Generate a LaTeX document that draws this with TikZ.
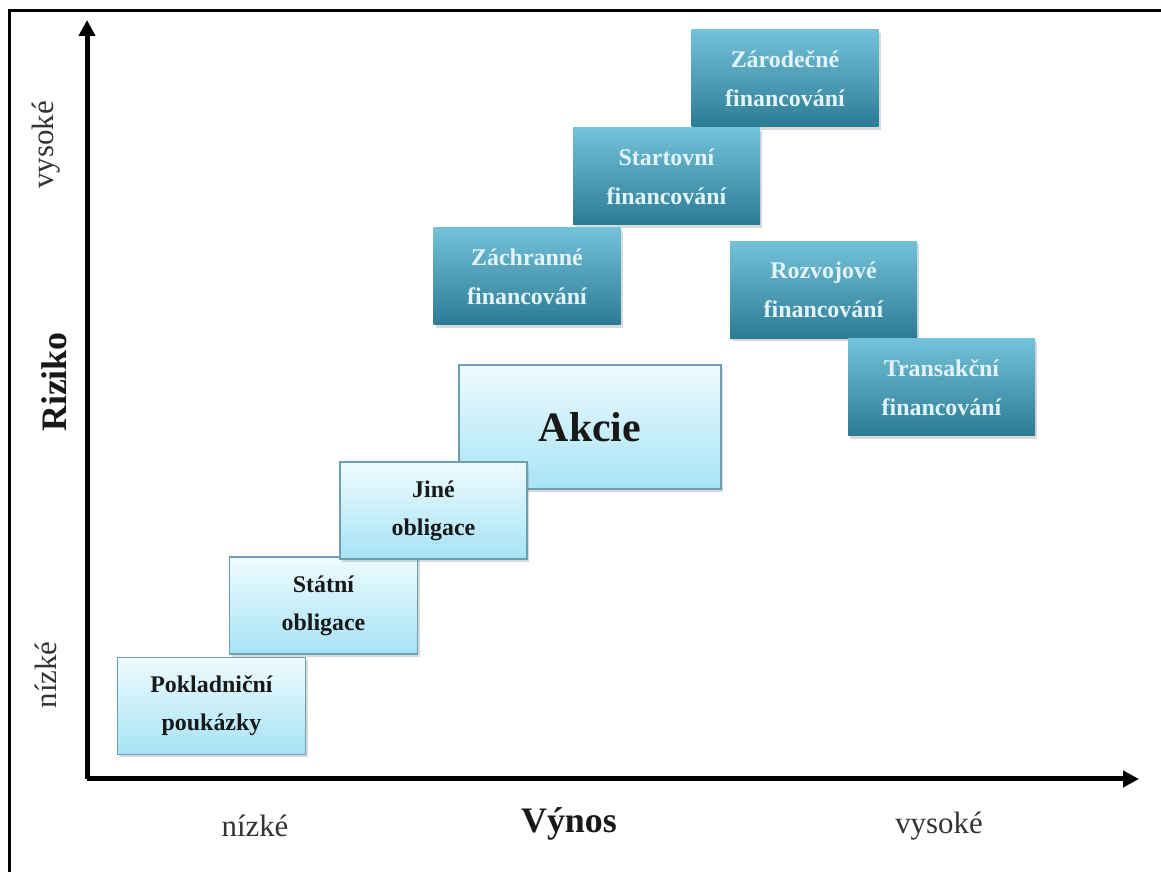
\documentclass[tikz,border=0pt]{standalone}
\usepackage{fontspec}
\setmainfont{Liberation Serif}
\usetikzlibrary{arrows.meta,shadows}

\definecolor{darktop}{HTML}{74C2D9}
\definecolor{darkbot}{HTML}{2C7B94}
\definecolor{darktext}{HTML}{E2F4F9}
\definecolor{lighttop}{HTML}{EFFBFE}
\definecolor{lightbot}{HTML}{A6E3F5}
\definecolor{lightedge}{HTML}{6E9FAF}

\begin{document}
\begin{tikzpicture}[x=1bp, y=1bp,
    darkbox/.style={minimum width=187bp, minimum height=97bp, inner sep=0pt,
        top color=darktop, bottom color=darkbot, text=darktext, align=center,
        font=\fontsize{24}{39}\selectfont\bfseries,
        drop shadow={shadow xshift=2bp, shadow yshift=-3bp, opacity=0.3}},
    lightbox/.style={draw=lightedge, line width=1.5bp, minimum width=188bp, minimum height=97bp,
        inner sep=0pt, top color=lighttop, bottom color=lightbot, text=black!90, align=center,
        font=\fontsize{24}{38}\selectfont\bfseries,
        drop shadow={shadow xshift=2bp, shadow yshift=-3bp, opacity=0.3}},
    axislabel/.style={font=\fontsize{31}{31}\selectfont, text=black!80},
    axistitle/.style={font=\fontsize{36}{36}\selectfont\bfseries, text=black!90}]
    \useasboundingbox (0,0) rectangle (1161,872);

    % Frame (top and left edges only)
    \draw[line width=3bp] (9,0) -- (9,861) -- (1161,861);

    % Axes
    \coordinate (origin) at (87,93);
    \coordinate (ytip) at (87,852);
    \coordinate (xtip) at (1139,93);
    \draw[line width=5bp, -{Triangle[length=16bp,width=16bp]}] (origin) -- (ytip);
    \draw[line width=5bp, -{Triangle[length=16bp,width=16bp]}] (origin) -- (xtip);

    % Axis labels
    \node[axislabel] (xlow) at (255,46) {nízké};
    \node[axistitle] (xtitle) at (569,48) {Výnos};
    \node[axislabel] (xhigh) at (939,46) {vysoké};
    \node[axislabel, rotate=90] (ylow) at (46,197) {nízké};
    \node[axistitle, rotate=90] (ytitle) at (54,490) {Riziko};
    \node[axislabel, rotate=90] (yhigh) at (46,727) {vysoké};

    % Light boxes (securities)
    \node[lightbox] (pokladnicni) at (211.5,166) {Pokladniční\\poukázky};
    \node[lightbox] (statni) at (323.5,266.5) {Státní\\obligace};
    \node[lightbox, minimum width=262bp, minimum height=124bp,
        font=\fontsize{42}{42}\selectfont\bfseries] (akcie) at (590,445) {Akcie};
    \node[lightbox, minimum width=187bp] (jine) at (433.5,361.5) {Jiné\\obligace};

    % Dark boxes (venture financing)
    \node[darkbox] (zarodecne) at (785,793.5) {Zárodečné\\financování};
    \node[darkbox] (startovni) at (666.5,695.5) {Startovní\\financování};
    \node[darkbox] (zachranne) at (527,595.5) {Záchranné\\financování};
    \node[darkbox] (rozvojove) at (823.5,582) {Rozvojové\\financování};
    \node[darkbox] (transakcni) at (941.5,484.5) {Transakční\\financování};
\end{tikzpicture}
\end{document}
